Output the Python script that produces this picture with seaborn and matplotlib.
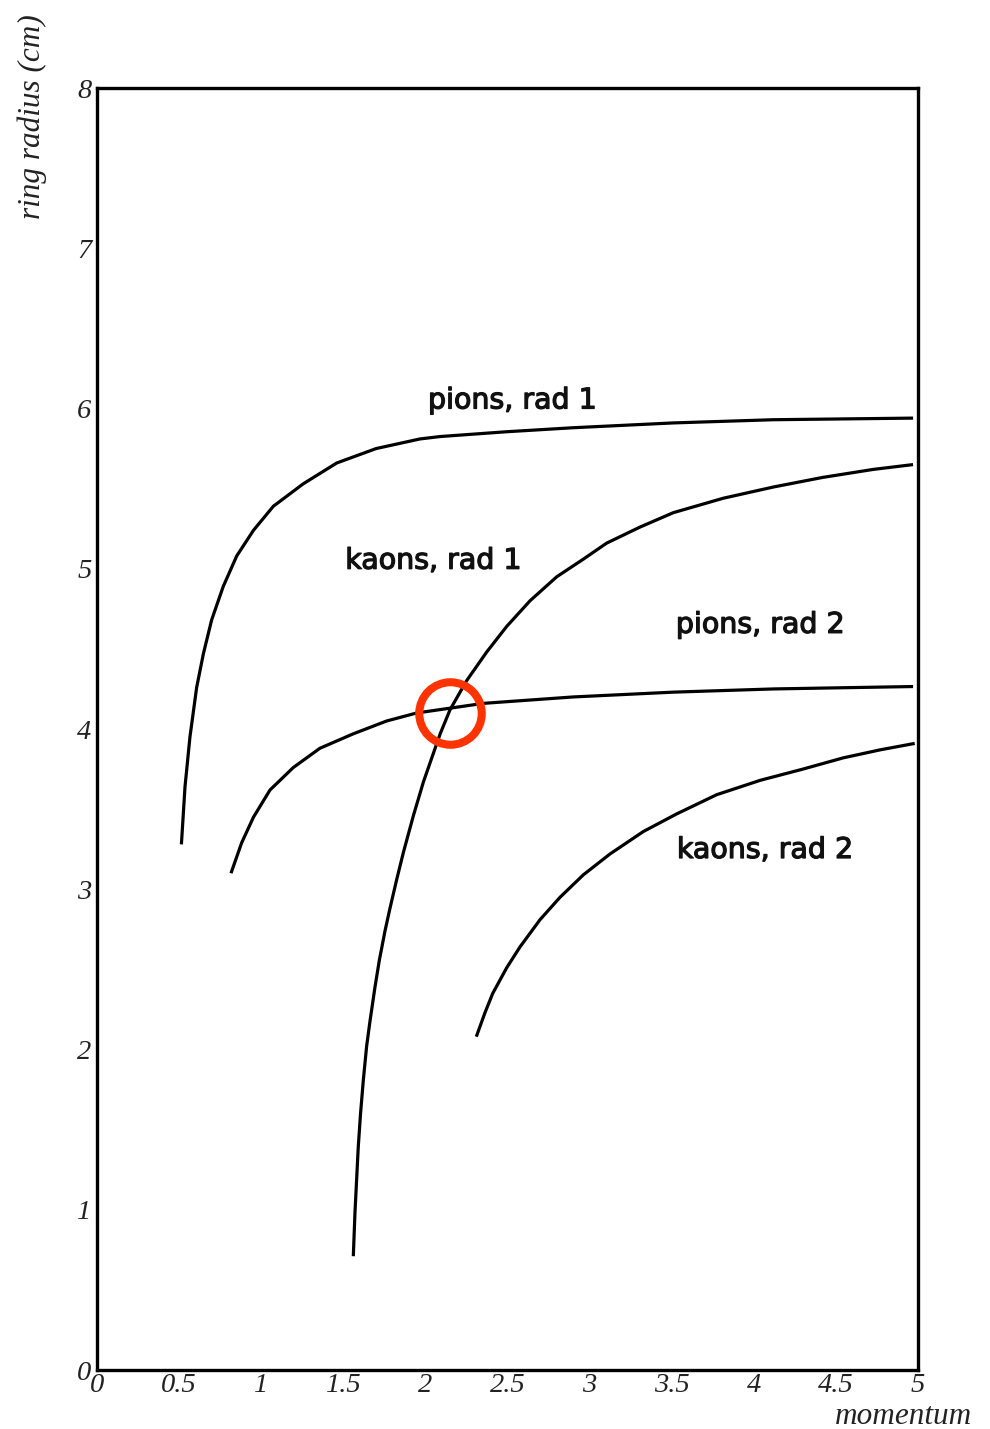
import matplotlib
matplotlib.use("Agg")
import matplotlib.pyplot as plt
import matplotlib.patheffects as pe
from matplotlib.ticker import MultipleLocator, FuncFormatter
import pandas as pd
import seaborn as sns

# Ring radius (cm) versus momentum for each particle / radiator combination
pion_rad1_p = [0.514, 0.536, 0.566, 0.607, 0.648, 0.698, 0.769, 0.851, 0.953, 1.074, 1.256,
               1.46, 1.70, 1.967, 2.09, 2.495, 2.90, 3.51, 4.12, 4.97]
pion_rad1_r = [3.28, 3.64, 3.95, 4.26, 4.47, 4.68, 4.89, 5.08, 5.24, 5.39, 5.53,
               5.66, 5.75, 5.81, 5.825, 5.855, 5.88, 5.91, 5.93, 5.94]

kaon_rad1_p = [1.561, 1.571, 1.591, 1.605, 1.622, 1.642, 1.663, 1.693, 1.72, 1.754, 1.784,
               1.825, 1.866, 1.927, 1.988, 2.09, 2.15, 2.25, 2.373, 2.495, 2.637, 2.80,
               2.962, 3.104, 3.307, 3.51, 3.814, 4.119, 4.42, 4.728, 4.97]
kaon_rad1_r = [0.71, 0.98, 1.39, 1.60, 1.81, 2.02, 2.18, 2.39, 2.56, 2.74, 2.88,
               3.06, 3.23, 3.46, 3.67, 3.97, 4.12, 4.30, 4.48, 4.64, 4.80, 4.95,
               5.06, 5.16, 5.26, 5.35, 5.44, 5.51, 5.57, 5.62, 5.65]

pion_rad2_p = [0.816, 0.881, 0.953, 1.054, 1.196, 1.358, 1.561, 1.764, 1.947, 2.15,
               2.353, 2.90, 3.51, 4.12, 4.97]
pion_rad2_r = [3.10, 3.29, 3.45, 3.62, 3.76, 3.88, 3.97, 4.05, 4.10, 4.13,
               4.16, 4.20, 4.23, 4.25, 4.265]

kaon_rad2_p = [2.31, 2.363, 2.41, 2.495, 2.576, 2.698, 2.82, 2.962, 3.124, 3.327, 3.53,
               3.774, 4.04, 4.30, 4.545, 4.77, 4.98]
kaon_rad2_r = [2.08, 2.23, 2.35, 2.51, 2.64, 2.81, 2.95, 3.09, 3.22, 3.36, 3.47,
               3.59, 3.68, 3.75, 3.82, 3.87, 3.91]

curve_labels = ["pions, rad 1", "kaons, rad 1", "pions, rad 2", "kaons, rad 2"]
label_p = [2.53, 2.05, 4.04, 4.07]
label_r = [6.05, 5.05, 4.65, 3.245]

# highlighted crossing of kaons/rad 1 with pions/rad 2
cross_p = [2.15]
cross_r = [4.10]

x_ticks = [0, 0.5, 1, 1.5, 2, 2.5, 3, 3.5, 4, 4.5, 5]
y_ticks = [0, 1, 2, 3, 4, 5, 6, 7, 8]

frames = []
for name, p, r in zip(curve_labels,
                      [pion_rad1_p, kaon_rad1_p, pion_rad2_p, kaon_rad2_p],
                      [pion_rad1_r, kaon_rad1_r, pion_rad2_r, kaon_rad2_r]):
    frames.append(pd.DataFrame({"momentum": p, "radius": r, "curve": name}))
df = pd.concat(frames, ignore_index=True)

sns.set_style("white")
plt.rcParams["font.family"] = ["DejaVu Sans"]

fig = plt.figure(figsize=(9.9, 14.29), dpi=100)
ax = fig.add_axes([97 / 990, 1 - 1370 / 1429, (918 - 97) / 990, (1370 - 88) / 1429])

sns.lineplot(data=df, x="momentum", y="radius", units="curve", estimator=None,
             color="black", linewidth=2.3, sort=False, ax=ax, legend=False)
for ln in ax.get_lines():
    ln.set_solid_joinstyle("round")
    ln.set_solid_capstyle("butt")

ax.plot(cross_p, cross_r, marker="o", markersize=45, markerfacecolor="none",
        markeredgecolor="#FF3300", markeredgewidth=5.8, linestyle="none")

for txt, p, r in zip(curve_labels, label_p, label_r):
    ax.text(p, r, txt, ha="center", va="center", fontsize=20.5,
            family=["DejaVu Sans"], color="#111111",
            path_effects=[pe.withStroke(linewidth=0.9, foreground="#111111")])

ax.set_xlim(0, 5)
ax.set_ylim(0, 8)
ax.set_xticks(x_ticks)
ax.set_yticks(y_ticks)
ax.xaxis.set_minor_locator(MultipleLocator(0.1))
ax.yaxis.set_minor_locator(MultipleLocator(0.2))
fmt = FuncFormatter(lambda v, _: ("%g" % v))
ax.xaxis.set_major_formatter(fmt)
ax.yaxis.set_major_formatter(fmt)
ax.tick_params(which="both", direction="in", color="black", width=2,
               top=False, right=False)
ax.tick_params(which="major", length=8)
ax.tick_params(which="minor", length=4)
ax.tick_params(axis="x", pad=2)
ax.tick_params(axis="y", pad=4)
for lab in ax.get_xticklabels() + ax.get_yticklabels():
    lab.set_family(["Liberation Serif"])
    lab.set_style("italic")
    lab.set_fontsize(20.5)
    lab.set_color("#222222")

for s in ax.spines.values():
    s.set_visible(True)
    s.set_color("black")
    s.set_linewidth(2.4)

ax.set_xlabel("")
ax.set_ylabel("")
fig.text(32 / 990, 1 - 14 / 1429, "ring radius (cm)", rotation=90, ha="center", va="top",
         fontsize=22.5, family=["Liberation Serif"], style="italic", color="#222222")
fig.text(972 / 990, 1 - 1417 / 1429, "momentum", ha="right", va="center",
         fontsize=22.5, family=["Liberation Serif"], style="italic", color="#222222")

fig.savefig("out.png", dpi=100, facecolor="white")
